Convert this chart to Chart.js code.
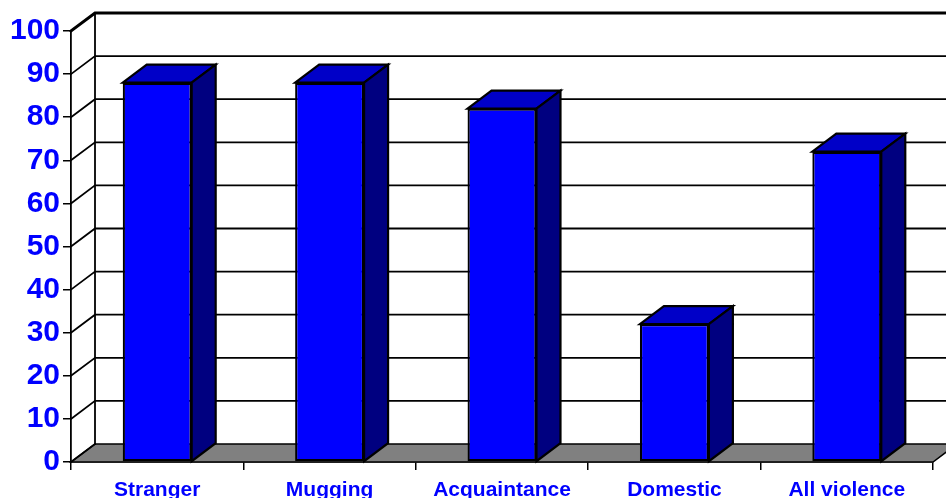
<!DOCTYPE html>
<html>
<head>
<meta charset="utf-8">
<script src="https://cdn.jsdelivr.net/npm/chart.js@4.4.0/dist/chart.umd.min.js"></script>
<style>
  html, body { margin: 0; padding: 0; background: #ffffff; }
  #wrap { width: 946px; height: 498px; }
</style>
</head>
<body>
<div id="wrap"><canvas id="myChart" width="946" height="498"></canvas></div>
<script>
// chart data
const categories = ["Stranger", "Mugging", "Acquaintance", "Domestic", "All violence"];
const values = [88, 88, 82, 32, 72];
const yTicks = [0, 10, 20, 30, 40, 50, 60, 70, 80, 90, 100];

// depth of the 3d box
const DX = 24;
const DY = 18;

const ctx = document.getElementById("myChart").getContext("2d");

// walls, floor and back grid lines
const wallsPlugin = {
  id: "walls",
  beforeDatasetsDraw(chart) {
    const c = chart.ctx;
    const area = chart.chartArea;
    const y = chart.scales.y;
    const base = y.getPixelForValue(0);
    c.save();
    c.strokeStyle = "#000000";
    c.lineCap = "square";

    // floor
    c.fillStyle = "#808080";
    c.lineWidth = 1.5;
    c.beginPath();
    c.moveTo(area.left, base);
    c.lineTo(area.right, base);
    c.lineTo(area.right + DX, base - DY);
    c.lineTo(area.left + DX, base - DY);
    c.closePath();
    c.fill();
    c.stroke();

    // back wall grid + side wall diagonals
    yTicks.forEach((t) => {
      const py = y.getPixelForValue(t);
      c.lineWidth = t === 100 ? 3 : 1.8;
      c.beginPath();
      c.moveTo(area.left, py);
      c.lineTo(area.left + DX, py - DY);
      if (t > 0) c.lineTo(chart.width + 10, py - DY);
      c.stroke();
    });

    // back wall left edge
    c.lineWidth = 1.8;
    c.beginPath();
    c.moveTo(area.left + DX, y.getPixelForValue(100) - DY);
    c.lineTo(area.left + DX, base - DY);
    c.stroke();
    c.restore();
  },
  afterDatasetsDraw(chart) {
    const c = chart.ctx;
    const meta = chart.getDatasetMeta(0);
    c.save();
    c.strokeStyle = "#000000";
    c.lineWidth = 2.2;
    c.lineJoin = "miter";
    meta.data.forEach((bar) => {
      const p = bar.getProps(["x", "y", "base", "width"], true);
      const l = p.x - p.width / 2;
      const r = p.x + p.width / 2;
      // top face
      c.fillStyle = "#0000C8";
      c.beginPath();
      c.moveTo(l, p.y);
      c.lineTo(r, p.y);
      c.lineTo(r + DX, p.y - DY);
      c.lineTo(l + DX, p.y - DY);
      c.closePath();
      c.fill();
      c.stroke();
      // side face
      c.fillStyle = "#000080";
      c.beginPath();
      c.moveTo(r, p.y);
      c.lineTo(r + DX, p.y - DY);
      c.lineTo(r + DX, p.base - DY);
      c.lineTo(r, p.base);
      c.closePath();
      c.fill();
      c.stroke();
    });
    c.restore();
  },
};

new Chart(ctx, {
  type: "bar",
  data: {
    labels: categories,
    datasets: [
      {
        data: values,
        backgroundColor: "#0000FF",
        borderColor: "#000000",
        borderWidth: 2.2,
        borderSkipped: false,
        categoryPercentage: 1,
        barPercentage: 0.4,
      },
    ],
  },
  options: {
    responsive: false,
    animation: false,
    layout: {
      padding: { top: 31, right: 13, bottom: 0, left: 0 },
    },
    plugins: {
      legend: { display: false },
      title: { display: false },
      tooltip: { enabled: false },
    },
    scales: {
      x: {
        offset: true,
        afterFit: (scale) => {
          scale.height = 36;
        },
        grid: {
          display: true,
          offset: true,
          drawOnChartArea: false,
          drawTicks: true,
          tickLength: 8,
          color: "#000000",
          lineWidth: 1.5,
        },
        border: { display: true, color: "#000000", width: 1.5 },
        ticks: {
          color: "#0000FF",
          padding: 8,
          maxRotation: 0,
          autoSkip: false,
          font: { family: "Liberation Sans, Arial", size: 21, weight: "bold" },
        },
      },
      y: {
        min: 0,
        max: 100,
        afterFit: (scale) => {
          scale.width = 71;
        },
        afterBuildTicks: (scale) => {
          scale.ticks = yTicks.map((v) => ({ value: v }));
        },
        grid: {
          display: true,
          drawOnChartArea: false,
          drawTicks: true,
          tickLength: 8,
          color: "#000000",
          lineWidth: 1.5,
        },
        border: { display: true, color: "#000000", width: 1.8 },
        ticks: {
          color: "#0000FF",
          padding: 3,
          font: { family: "Liberation Sans, Arial", size: 30, weight: "bold" },
        },
      },
    },
  },
  plugins: [wallsPlugin],
});
</script>
</body>
</html>
